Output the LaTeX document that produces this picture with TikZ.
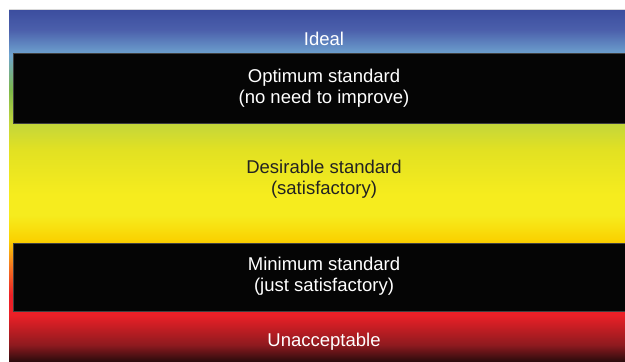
\documentclass[tikz,border=0pt]{standalone}
\usepackage{fontspec}
\setmainfont{Liberation Sans}
\usepackage{xcolor}
\usepackage{tikz}

\definecolor{topblue}{HTML}{3C4E9F}
\definecolor{midblue}{HTML}{4B5FAB}
\definecolor{skyblue}{HTML}{6FA4D0}
\definecolor{leafgreen}{HTML}{7DB84A}
\definecolor{olive}{HTML}{C3D63B}
\definecolor{lemon}{HTML}{E2E122}
\definecolor{sunyellow}{HTML}{F6EC1E}
\definecolor{gold}{HTML}{FAD200}
\definecolor{amber}{HTML}{F47B20}
\definecolor{scarlet}{HTML}{EC2027}
\definecolor{darkred}{HTML}{8E1A1F}
\definecolor{nearblack}{HTML}{2D0B0D}
\definecolor{inktext}{HTML}{222222}

% stops run bottom to top, the path fills 25bp--75bp
\pgfdeclareverticalshading{levels}{100bp}{
  color(0bp)=(nearblack); color(25bp)=(nearblack);
  color(27.3bp)=(darkred); color(31.6bp)=(scarlet);
  color(34.4bp)=(scarlet); color(38.7bp)=(amber);
  color(42.2bp)=(gold); color(45.8bp)=(sunyellow);
  color(48.7bp)=(sunyellow); color(55.1bp)=(lemon);
  color(58.9bp)=(olive); color(63.6bp)=(leafgreen);
  color(68.6bp)=(skyblue); color(72.2bp)=(midblue);
  color(75bp)=(topblue); color(100bp)=(topblue)}

\begin{document}
\begin{tikzpicture}[
    x=0.03cm, y=-0.03cm,
    band/.style={draw=black!75, line width=0.4pt, fill=black!98},
    label/.style={font=\fontsize{15.8}{18}\selectfont, align=center, text=white, inner sep=0pt},
    darklabel/.style={label, text=inktext}
]
    \useasboundingbox[fill=white] (0,0) rectangle (625,361);

    % Colour scale
    \draw[black!15, line width=0.3pt] (9,9.5) -- (625,9.5);
    \shade[shading=levels] (9,10) rectangle (625,361);

    % Black bands
    \draw[band] (13,53) rectangle (625,123);
    \draw[band] (13,243) rectangle (625,311);

    % Labels
    \node[label, anchor=base] (ideal) at (324,45.7) {Ideal};
    \node[label] (optimum) at (324,88.1) {Optimum standard\\(no need to improve)};
    \node[darklabel] (desirable) at (324,179) {Desirable standard\\(satisfactory)};
    \node[label] (minimum) at (324,276.5) {Minimum standard\\(just satisfactory)};
    \node[label, anchor=base] (unaccept) at (324,346) {Unacceptable};
\end{tikzpicture}
\end{document}
